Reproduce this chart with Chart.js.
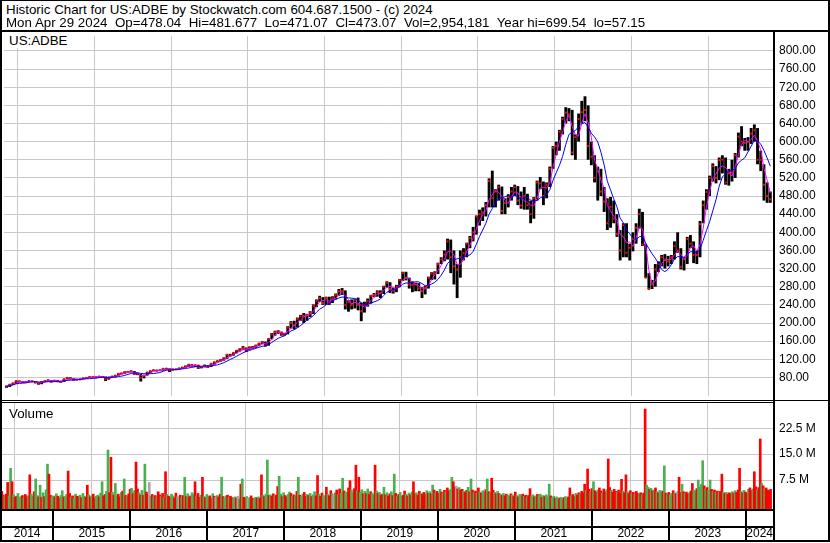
<!DOCTYPE html>
<html><head><meta charset="utf-8">
<script src="https://cdn.jsdelivr.net/npm/chart.js@4.4.1/dist/chart.umd.min.js"></script>
<style>
html,body{margin:0;padding:0;background:#fff;}
#wrap{position:relative;width:830px;height:543px;overflow:hidden;background:#fff;font-family:"Liberation Sans",Arial,sans-serif;color:#000;}
.ln{position:absolute;background:#000;z-index:5;}
.tx{position:absolute;white-space:pre;font-size:13.33px;line-height:14px;z-index:6;}
canvas{position:absolute;left:0;}
</style></head><body>
<div id="wrap">
 <div class="tx" style="left:6px;top:2.6px">Historic Chart for US:ADBE by Stockwatch.com 604.687.1500 - (c) 2024</div>
 <div class="tx" style="left:6px;top:16px">Mon Apr 29 2024  Op=478.04  Hi=481.677  Lo=471.07  Cl=473.07  Vol=2,954,181  Year hi=699.54  lo=57.15</div>
 <canvas id="cp" width="830" height="368" style="top:32px"></canvas>
 <canvas id="cv" width="830" height="106" style="top:403px"></canvas>
 <canvas id="cx" width="830" height="32" style="top:509px"></canvas>
 <div class="tx" style="left:2px;top:32px;height:16px;padding:2px 4px 0 7px;box-sizing:border-box;background:#fff;">US:ADBE</div>
 <div class="tx" style="left:9px;top:406.6px">Volume</div>
 <div class="ln" style="left:0;top:0;width:830px;height:1px"></div>
 <div class="ln" style="left:0;top:0;width:2px;height:542px"></div>
 <div class="ln" style="left:828px;top:0;width:2px;height:542px"></div>
 <div class="ln" style="left:0;top:540px;width:830px;height:2px"></div>
 <div class="ln" style="left:0;top:30px;width:830px;height:2px"></div>
 <div class="ln" style="left:773px;top:32px;width:2px;height:510px"></div>
 <div class="ln" style="left:0;top:400px;width:830px;height:1px"></div>
 <div class="ln" style="left:0;top:402px;width:773px;height:1px"></div>
 <div class="ln" style="left:0;top:509px;width:773px;height:2px"></div>
 <div class="ln" style="left:0;top:526px;width:773px;height:2px"></div>
</div>
<script>
// ---- data (semi-monthly periods from May 2014 to Apr 2024) ----
const priceClose = [
60,64,67,72,71,70,70,72,71,69,66,70,72,74,71,73,
71,70,76,79,77,75,75,76,78,79,81,81,80,82,81,76,80,82,84,88,89,92,92,94,
88,88,79,84,91,94,96,95,96,99,99,96,98,98,100,102,104,108,105,107,103,103,106,103,
110,113,116,118,122,130,128,134,139,142,145,141,146,146,150,155,158,150,165,175,180,181,176,175,
190,200,195,209,215,216,218,222,238,249,255,244,255,245,255,262,270,270,240,246,240,251,240,226,
240,248,260,262,268,266,280,289,275,271,280,295,310,299,285,284,285,276,270,278,300,309,310,330,
340,351,380,345,325,318,345,354,375,387,400,435,440,444,460,513,475,490,500,447,465,478,490,500,
470,459,480,460,440,475,510,508,480,505,540,586,590,622,650,664,660,576,610,650,665,670,590,567,
520,534,490,468,420,456,430,396,360,416,355,366,385,410,440,373,300,275,285,318,330,345,340,336,
345,370,360,324,340,385,375,350,350,418,460,489,520,546,520,559,560,510,530,532,570,611,600,597,
600,618,625,560,560,505,480,473];
const priceHigh = [
62,65,68,73,73,72,71,73,73,71,69,71,73,75,74,74,
74,72,77,80,80,78,77,77,79,80,82,82,82,83,83,82,81,83,85,89,90,93,94,95,
94,90,88,85,92,95,97,97,97,100,101,100,99,99,101,103,106,109,109,108,108,105,108,107,
111,115,117,120,124,131,132,135,140,144,149,146,148,149,152,156,160,159,166,178,183,184,181,178,
193,204,205,212,218,222,220,226,241,252,260,257,258,258,259,265,275,277,272,250,252,253,256,245,
247,254,262,266,272,272,282,292,290,278,284,297,313,313,300,292,289,288,279,282,302,312,314,333,
345,360,386,384,360,330,360,365,377,392,412,437,450,455,467,519,536,495,505,501,475,484,500,505,
502,490,500,485,470,478,514,522,512,510,545,590,600,626,655,676,674,670,616,662,690,700,680,600,
570,545,540,500,475,478,470,440,405,420,420,375,400,420,452,445,375,310,295,330,336,350,352,348,
350,380,400,365,345,390,394,380,360,425,470,495,525,552,546,565,570,565,540,560,575,620,634,608,
610,630,638,630,580,550,510,490];
const priceLow = [
57,59,63,66,69,68,68,69,70,67,64,65,70,71,69,70,
70,68,70,76,76,73,74,74,76,77,79,80,79,80,79,72,75,79,80,84,87,88,90,91,
86,85,71,78,84,90,94,93,94,95,97,92,95,96,97,99,101,103,104,103,99,100,102,101,
103,108,113,115,117,121,126,128,133,137,140,136,141,143,145,149,153,148,150,164,172,176,172,172,
175,188,186,190,205,200,205,213,220,235,246,240,240,240,244,252,260,262,230,225,230,232,228,204,
223,236,243,257,258,255,264,278,266,265,268,279,293,294,276,268,270,270,255,263,276,295,296,308,
330,336,340,310,285,255,300,338,345,365,380,395,415,425,435,455,455,455,470,440,440,455,470,480,
460,452,450,450,420,430,470,495,460,475,500,540,570,580,616,640,645,570,560,600,640,645,560,548,
510,470,480,445,405,410,420,390,338,345,345,338,358,375,408,370,300,274,275,280,312,325,320,325,
330,340,355,318,316,330,365,332,330,345,420,450,480,512,508,515,530,505,503,512,520,565,590,580,
580,595,600,550,535,470,465,465];
// weekly volume in millions, Apr 2014 - Apr 2024
const volume = [
4.2,3.1,2.6,3.4,6.8,2.9,10.9,7.0,3.2,2.5,2.8,3.6,2.4,2.7,3.0,2.2,3.3,2.6,2.9,9.0,3.4,2.8,4.1,7.8,3.0,2.6,
6.0,2.5,3.8,2.7,4.6,12.1,9.2,3.1,2.4,2.9,2.6,3.5,2.8,2.3,3.0,4.4,2.6,2.7,3.3,10.1,3.6,2.5,2.9,2.2,3.4,2.8,
2.7,3.1,2.4,3.6,2.8,2.5,6.0,3.2,2.6,2.9,3.4,2.3,2.8,3.1,2.6,3.7,7.0,2.9,3.3,4.2,16.2,3.8,14.1,4.0,3.1,6.5,
2.9,3.4,2.6,3.9,4.3,7.8,3.0,2.7,3.5,4.8,5.1,3.6,4.4,12.7,4.9,3.8,3.2,4.5,3.1,12.1,4.0,3.4,6.8,2.8,3.3,2.6,
3.0,2.5,4.1,3.2,2.7,3.6,2.4,9.9,3.3,2.8,2.5,3.4,2.9,2.3,3.7,2.6,2.8,3.1,2.4,3.0,8.3,2.7,3.5,2.6,2.9,3.8,
3.2,7.0,2.8,3.6,2.5,3.1,8.3,2.7,2.4,3.3,2.6,2.9,2.2,3.5,2.8,2.5,3.0,2.6,3.4,8.3,2.7,2.3,2.9,3.1,2.5,2.8,
2.4,2.1,2.6,2.3,2.8,2.0,6.3,7.8,2.5,2.2,2.7,2.1,2.4,2.9,2.2,2.0,2.5,2.3,2.6,2.1,9.0,3.1,2.7,3.4,13.3,3.0,
3.2,2.8,3.5,2.9,3.1,5.6,8.6,3.4,2.7,3.8,3.0,2.6,3.3,4.0,3.6,2.8,3.2,2.9,4.2,8.3,3.1,2.7,3.4,3.9,2.8,3.3,
3.0,3.6,2.7,3.2,4.1,2.9,8.8,3.4,2.8,3.7,3.1,2.6,5.4,3.3,2.9,4.4,3.5,3.0,3.8,4.6,3.2,4.9,3.6,8.0,4.3,3.7,
4.0,5.2,7.3,4.6,3.8,5.0,11.8,4.4,8.3,3.9,4.7,3.5,4.2,3.6,4.9,3.3,4.1,3.7,3.2,11.8,4.3,3.6,3.9,3.1,3.4,5.4,
3.2,3.8,2.9,3.5,4.1,3.0,9.2,3.6,2.8,3.3,3.9,2.7,3.1,4.3,3.4,2.9,3.7,3.2,4.0,7.0,3.5,3.8,3.1,4.2,3.6,3.3,
3.9,3.4,4.4,3.7,4.1,3.5,6.0,4.6,3.8,4.2,3.6,4.8,4.0,3.7,4.5,3.9,5.2,4.3,4.7,8.3,7.0,5.5,5.7,4.9,5.3,4.6,
4.8,4.2,3.9,4.5,5.4,4.1,7.8,4.6,3.8,4.3,3.6,5.2,4.0,3.7,4.4,3.9,4.7,7.8,4.1,3.8,8.0,4.5,3.9,3.5,4.2,3.6,
3.3,3.0,3.6,2.9,3.4,3.1,2.8,3.5,3.2,2.7,4.0,3.0,2.6,3.3,2.9,3.4,2.8,3.1,2.5,3.0,5.0,2.7,3.2,2.6,2.9,3.3,
2.8,3.4,2.5,3.0,2.7,3.2,2.6,6.3,2.9,2.4,2.8,2.2,2.6,2.0,2.3,2.5,2.1,2.4,2.7,2.2,2.6,5.2,2.9,3.3,2.7,3.6,
3.1,3.8,3.4,4.2,3.7,6.3,4.5,10.7,4.8,4.1,5.0,7.0,4.4,3.9,4.6,5.2,4.3,3.8,4.9,4.1,4.7,13.6,5.3,4.5,4.0,4.8,
4.2,3.9,4.6,3.7,7.7,4.3,3.8,9.0,4.1,3.6,4.4,3.5,3.9,3.3,4.2,3.6,3.4,3.8,3.2,3.7,28.1,6.0,5.4,4.8,5.1,4.4,
4.6,5.2,4.1,3.8,4.5,3.9,4.3,11.6,3.7,3.4,3.9,3.2,3.6,4.4,3.8,3.5,4.2,8.3,3.9,6.3,4.1,3.6,4.0,3.4,3.8,4.3,
6.5,4.6,4.2,5.0,7.5,5.4,6.2,13.1,5.8,4.9,5.3,4.5,7.5,4.8,4.1,4.6,3.9,4.3,3.7,4.2,9.2,4.0,3.6,3.9,3.4,3.8,
3.5,4.1,3.7,4.4,3.9,4.6,10.9,4.2,3.8,4.5,4.0,3.6,4.8,5.2,4.4,4.9,9.9,5.5,4.7,5.3,19.4,6.5,5.8,4.9,5.2,4.6,
4.3,4.8];
// weekly direction: g = up, r = down, n = unchanged
const volDirection = [
"rrgrrggrgrrgggrgrrgrggrggr","grgrggrrggrgrrggrggrrgrggr","rgrggrrgrgrrggrggrrggrrgrg",
"grrgrgrgrrgrgrrgrgrgrrngrg","rgrrgrgrgrrggrrgnrgrgrgrrg","grgrrgrgrggrrgrngrrgrggrgr",
"rggrngrgrrgngrrggrgrrgrggr","grrgrrggrgrrggrgrgrgrggrrg","rgrggrrgrrggrgrrgngrgrggrg",
"grrggrrgrggrgrgrrggrgrgrrg","rgrrgrgrgrggrrgrgrgrrgrrgr","rrgrgrgrgrrgrgrgrrggrrnrgr",
"rgrrgrgrgrgrgrggrgrgrrgrgr","grgrrggrgrrgrggrgrgrrggrgr","ggrgrgggrggrggrggrggrrgrrg",
"rrgrrrgrrgrgrrgrrgrrgrrgrr","rgrrrgrrgrrgrgrrgrgrrggrgr","grgrggrgrgrggrgrnrrgrgrrgr",
"rggrggggrgrggrgrgrgrrgrgrr","rgrgrrrgrgrrgrrgrrgrrgrgrr","rr"].join("");
const priceTicks = [80,120,160,200,240,280,320,360,400,440,480,520,560,600,640,680,720,760,800];
const volTicks = [7.5,15,22.5];
const volTickLabels = ["7.5 M","15.0 M","22.5 M"];
const yearBounds = [2015,2016,2017,2018,2019,2020,2021,2022,2023,2024];
const yearLabels = ["2014","2015","2016","2017","2018","2019","2020","2021","2022","2023","2024"];

// ---- time axis ----
const X0 = 2014.321, X1 = 2024.347;
const PERIOD0 = 2014.333, WEEK0 = 2014.321, WEEK = 7/365.25;
const xHalf = i => PERIOD0 + (i + 0.5) / 24;
const xWeek = j => WEEK0 + (j + 0.5) * WEEK;
const yearMids = [(X0 + yearBounds[0]) / 2];
for (let k = 0; k < yearBounds.length - 1; k++) yearMids.push((yearBounds[k] + yearBounds[k+1]) / 2);
yearMids.push((yearBounds[yearBounds.length-1] + X1) / 2);

// moving averages of the closes (indicator lines)
function sma(a, n) {
  return a.map((_, i) => { const s = a.slice(Math.max(0, i - n + 1), i + 1); return s.reduce((p, c) => p + c, 0) / s.length; });
}
const maFast = sma(priceClose, 3), maSlow = sma(priceClose, 7);

Chart.defaults.font.family = "'Liberation Sans', Arial, sans-serif";
Chart.defaults.font.size = 12;
Chart.defaults.color = '#000';

const GRID = '#c8c8c8';
const setTicks = arr => s => { s.ticks = arr.map(v => ({value: v})); };
const noPad = s => { s.paddingTop = 0; s.paddingBottom = 0; s.paddingLeft = 0; s.paddingRight = 0; };
const xGridAxis = () => ({
  type: 'linear', min: X0, max: X1, offset: false,
  afterBuildTicks: setTicks(yearBounds),
  ticks: {display: false}, grid: {color: GRID, lineWidth: 1, drawTicks: false}, border: {display: false},
  afterFit: s => { s.height = 0; noPad(s); }
});
const yRight = (min, max, ticks, cb, grid) => ({
  type: 'linear', position: 'right', min, max,
  afterBuildTicks: setTicks(ticks),
  ticks: {padding: 6, autoSkip: false, callback: cb, display: !!cb},
  grid: grid ? {color: GRID, drawTicks: false} : {display: false, drawTicks: false},
  border: {display: false},
  afterFit: s => { s.width = 57; noPad(s); }
});
const baseOpts = scales => ({
  responsive: false, animation: false, devicePixelRatio: 1, events: [],
  layout: {padding: {left: 1, right: 0, top: 0, bottom: 0}},
  plugins: {legend: {display: false}, tooltip: {enabled: false}},
  scales
});

// price panel
new Chart(document.getElementById('cp'), {
  type: 'bar',
  data: {datasets: [
    {type: 'bar', data: priceClose.map((c, i) => ({x: xHalf(i), y: [priceLow[i], priceHigh[i]]})),
     backgroundColor: '#000', barPercentage: 0.9, categoryPercentage: 1, order: 4},
    {type: 'line', data: priceClose.map((c, i) => ({x: xHalf(i), y: c})), showLine: false,
     pointRadius: 1.4, pointStyle: 'rect', pointBackgroundColor: '#ff0000', pointBorderWidth: 0, order: 3},
    {type: 'line', data: maFast.map((v, i) => ({x: xHalf(i), y: v})), borderColor: '#ff00ff', borderWidth: 1, pointRadius: 0, tension: 0, order: 2},
    {type: 'line', data: maSlow.map((v, i) => ({x: xHalf(i), y: v})), borderColor: '#0000ff', borderWidth: 1, pointRadius: 0, tension: 0, order: 1}
  ]},
  options: baseOpts({
    x: xGridAxis(),
    y: yRight(39, 833, priceTicks, v => v.toFixed(2), true)
  })
});

// volume panel
const VMIN = -0.91, VMAX = 29.84;
const dirColor = {g: '#4caf50', r: '#ff0000', n: '#a8a8a8'};
new Chart(document.getElementById('cv'), {
  type: 'bar',
  data: {datasets: [
    {data: volume.map((v, j) => ({x: xWeek(j), y: v})), base: VMIN,
     backgroundColor: volume.map((v, j) => dirColor[volDirection[j]] || dirColor.g),
     barThickness: 2, borderWidth: 0}
  ]},
  options: baseOpts({
    x: xGridAxis(),
    y: yRight(VMIN, VMAX, volTicks, (v, i) => volTickLabels[i], true)
  })
});

// year axis rows
new Chart(document.getElementById('cx'), {
  type: 'line',
  data: {datasets: []},
  options: baseOpts({
    x: {type: 'linear', min: X0, max: X1, offset: false,
        afterBuildTicks: setTicks(yearBounds),
        ticks: {display: false}, grid: {color: '#000', lineWidth: 2, drawTicks: false}, border: {display: false},
        afterFit: s => { s.height = 0; noPad(s); }},
    x2: {type: 'linear', position: 'bottom', min: X0, max: X1, offset: false,
        afterBuildTicks: setTicks(yearMids),
        ticks: {mirror: true, padding: 0, autoSkip: false, maxRotation: 0, callback: (v, i) => yearLabels[i]},
        grid: {display: false, drawTicks: false}, border: {display: false},
        afterFit: s => { s.height = 0; noPad(s); }},
    y: yRight(0, 1, [], null, false)
  })
});
</script>
</body></html>
